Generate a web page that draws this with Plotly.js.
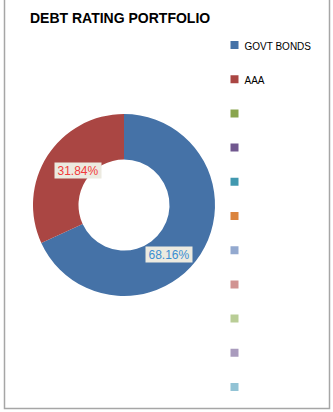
<!DOCTYPE html>
<html>
<head>
<meta charset="utf-8">
<script src="https://cdn.plot.ly/plotly-3.0.1.min.js"></script>
<style>
  html, body { margin: 0; padding: 0; background: #ffffff; }
  #chart { width: 333px; height: 412px; }
  .legendpie { transform: translate(30px, 0px) scale(0.667); }
</style>
</head>
<body>
<div id="chart"></div>
<script>
// ---- data ----
const categories = ["GOVT BONDS", "AAA", "", "", "", "", "", "", "", "", ""];
const shares = [68.16, 31.84, 0, 0, 0, 0, 0, 0, 0, 0, 0];
const sliceColors = ["#4572A7", "#AA4643", "#89A54E", "#71588F", "#4198AF", "#DB843D",
                     "#93A9CF", "#D19392", "#B9CD96", "#A99BBD", "#92C3D5"];
const labelFontColors = ["#3A8ED2", "#F23B3B"];

// legend labels: blank first line + visible 10px text, giving the wide Excel spacing
const legendLabels = categories.map((c, i) =>
  ' <br>' + (c ? '<span style="font-size:10px">' + c + '</span>' : '\u200b'.repeat(i)));

const total = shares.reduce((a, b) => a + b, 0);
const pctText = shares.map(v => (v / total * 100).toFixed(2) + '%');

const W = 333, H = 412;
const px = v => v / W;
const py = v => 1 - v / H;

// data-label anchor points (pixel layout positions of the Excel labels)
const labelPos = [[169, 254.5], [77.5, 170]];

const annotations = [];
shares.forEach((v, i) => {
  if (v > 0 && labelPos[i]) {
    annotations.push({
      text: pctText[i],
      x: px(labelPos[i][0]), y: py(labelPos[i][1]),
      xref: 'paper', yref: 'paper', xanchor: 'center', yanchor: 'middle',
      showarrow: false,
      font: { family: 'Liberation Sans, Arial, sans-serif', size: 12, color: labelFontColors[i] },
      bgcolor: '#ECEAE0', borderpad: 1, width: 44, height: 13
    });
  }
});

const trace = {
  type: 'pie',
  labels: legendLabels,
  values: shares,
  hole: 0.5,
  sort: false,
  direction: 'clockwise',
  rotation: 0,
  textinfo: 'none',
  hoverinfo: 'skip',
  marker: { colors: sliceColors, line: { width: 0 } },
  domain: { x: [px(33), px(215)], y: [py(296), py(114)] },
  showlegend: true
};

const layout = {
  width: W, height: H,
  margin: { l: 0, r: 0, t: 0, b: 0, pad: 0 },
  paper_bgcolor: '#ffffff',
  plot_bgcolor: '#ffffff',
  font: { family: 'Liberation Sans, Arial, sans-serif', color: '#000000' },
  title: {
    text: '<b>DEBT RATING PORTFOLIO</b>',
    font: { family: 'Liberation Sans, Arial, sans-serif', size: 14, color: '#000000' },
    xref: 'container', yref: 'container',
    x: px(30), xanchor: 'left',
    y: py(18), yanchor: 'middle'
  },
  legend: {
    orientation: 'v',
    x: px(204.5), xanchor: 'left',
    y: py(15.1), yanchor: 'top',
    valign: 'bottom',
    bgcolor: 'rgba(0,0,0,0)',
    borderwidth: 0,
    font: { family: 'Liberation Sans, Arial, sans-serif', size: 12, color: '#000000' },
    traceorder: 'normal'
  },
  shapes: [{
    type: 'path',
    xref: 'paper', yref: 'paper',
    path: 'M ' + px(4.5) + ',1.02 L ' + px(4.5) + ',' + py(408.5) +
          ' L ' + px(329.5) + ',' + py(408.5) + ' L ' + px(329.5) + ',1.02',
    line: { color: '#A6A6A6', width: 1.5 }
  }],
  annotations: annotations,
  showlegend: true
};

Plotly.newPlot('chart', [trace], layout, { displayModeBar: false, staticPlot: true });
</script>
</body>
</html>
